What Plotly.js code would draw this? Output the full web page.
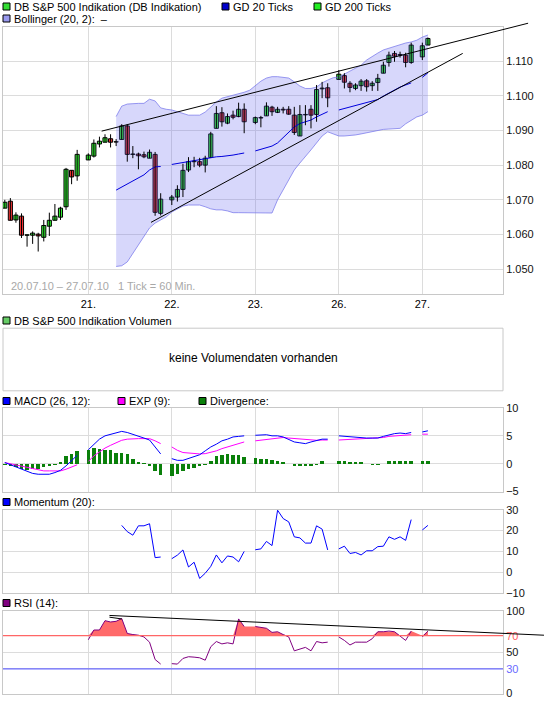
<!DOCTYPE html>
<html><head><meta charset="utf-8">
<script src="https://cdn.plot.ly/plotly-3.0.1.min.js"></script>
<style>html,body{margin:0;padding:0;background:#fff}</style>
</head><body><div id="chart" style="width:545px;height:711px"></div>
<script>
// ---------- data ----------
const dayTickIdx = [15, 30, 45, 60, 75];
const dayTickText = ['21.', '22.', '23.', '26.', '27.'];
const priceTicks = [1.05, 1.06, 1.07, 1.08, 1.09, 1.10, 1.11];

const candleIdx = [0,1,2,3,4,5,6,7,8,9,10,11,12,13,
  15,16,17,18,19,20,21,22,23,24,25,26,27,28,
  30,31,32,33,34,35,36,37,38,39,40,41,42,43,
  45,46,47,48,49,50,51,52,53,54,55,56,57,58,
  60,61,62,63,64,65,66,67,68,69,70,71,72,73,
  75,76];
const candleOpen = [1.0676,1.0696,1.0642,1.0653,1.0598,1.0598,1.0601,1.0592,1.0624,1.0641,1.0650,1.0680,1.0785,1.0769,
  1.0815,1.0826,1.0861,1.0866,1.0876,1.0867,1.0874,1.0913,1.0831,1.0832,1.0830,1.0820,1.0831,1.0661,
  1.0700,1.0708,1.0730,1.0786,1.0810,1.0810,1.0800,1.0822,1.0906,1.0951,1.0921,1.0944,1.0940,1.0961,
  1.0923,1.0937,1.0942,1.0967,1.0952,1.0961,1.0961,1.0944,1.0884,1.0945,1.0961,1.0946,1.1020,1.1023,
  1.1047,1.1058,1.1036,1.1021,1.1029,1.1043,1.1029,1.1038,1.1065,1.1096,1.1122,1.1119,1.1117,1.1096,
  1.1112,1.1146];
const candleHigh = [1.0700,1.0705,1.0664,1.0661,1.0600,1.0609,1.0605,1.0642,1.0663,1.0688,1.0680,1.0792,1.0785,1.0844,
  1.0834,1.0874,1.0882,1.0889,1.0889,1.0875,1.0918,1.0918,1.0855,1.0836,1.0839,1.0845,1.0838,1.0719,
  1.0714,1.0742,1.0804,1.0823,1.0824,1.0821,1.0827,1.0896,1.0970,1.0967,1.0949,1.0957,1.0980,1.0978,
  1.0940,1.0942,1.0981,1.0971,1.0968,1.0968,1.0970,1.0968,1.0973,1.0973,1.0973,1.1031,1.1040,1.1036,
  1.1074,1.1065,1.1042,1.1036,1.1048,1.1048,1.1042,1.1063,1.1098,1.1127,1.1129,1.1127,1.1124,1.1153,
  1.1153,1.1168];
const candleLow = [1.0676,1.0641,1.0634,1.0590,1.0565,1.0573,1.0551,1.0580,1.0596,1.0641,1.0642,1.0671,1.0745,1.0755,
  1.0815,1.0822,1.0851,1.0866,1.0851,1.0855,1.0874,1.0810,1.0820,1.0788,1.0820,1.0820,1.0654,1.0655,
  1.0685,1.0695,1.0708,1.0780,1.0794,1.0794,1.0779,1.0822,1.0906,1.0911,1.0918,1.0932,1.0938,1.0892,
  1.0918,1.0909,1.0942,1.0942,1.0950,1.0949,1.0945,1.0887,1.0884,1.0915,1.0906,1.0925,1.0993,1.0967,
  1.1047,1.1021,1.1010,1.1016,1.1014,1.1012,1.1014,1.1014,1.1065,1.1084,1.1098,1.1110,1.1082,1.1092,
  1.1103,1.1146];
const candleClose = [1.0693,1.0641,1.0656,1.0598,1.0599,1.0604,1.0596,1.0626,1.0641,1.0653,1.0676,1.0788,1.0766,1.0831,
  1.0829,1.0863,1.0869,1.0879,1.0866,1.0867,1.0913,1.0831,1.0832,1.0827,1.0824,1.0837,1.0664,1.0702,
  1.0708,1.0730,1.0785,1.0810,1.0811,1.0800,1.0820,1.0890,1.0949,1.0925,1.0940,1.0938,1.0961,1.0925,
  1.0937,1.0936,1.0970,1.0954,1.0961,1.0959,1.0947,1.0894,1.0946,1.0946,1.0944,1.1018,1.1022,1.0994,
  1.1062,1.1039,1.1024,1.1031,1.1042,1.1026,1.1036,1.1050,1.1088,1.1117,1.1114,1.1117,1.1096,1.1146,
  1.1144,1.1165];

// Bollinger band (index 20..76)
const bbIdx = [20,21,22,23,24,25,26,27,28,29,30,31,32,33,34,35,36,37,38,39,40,41,42,43,44,45,46,47,48,49,
  50,51,52,53,54,55,56,57,58,59,60,61,62,63,64,65,66,67,68,69,70,71,72,73,74,75,76];
const bbUpper = [1.0940,1.0970,1.0976,1.0978,1.0978,1.0978,1.0990,1.0985,1.0965,1.0961,
  1.0959,1.0954,1.0950,1.0944,1.0944,1.0944,1.0953,1.0968,1.0982,1.0993,
  1.0997,1.1002,1.1005,1.1010,1.1016,1.1028,1.1042,1.1051,1.1055,1.1055,
  1.1054,1.1051,1.1040,1.1028,1.1021,1.1021,1.1025,1.1037,1.1045,1.1052,
  1.1054,1.1063,1.1071,1.1080,1.1088,1.1103,1.1114,1.1123,1.1132,1.1137,
  1.1143,1.1146,1.1152,1.1155,1.1160,1.1169,1.1175];
const bbLower = [1.0508,1.0510,1.0521,1.0546,1.0570,1.0596,1.0619,1.0633,1.0642,1.0651,
  1.0665,1.0674,1.0682,1.0685,1.0685,1.0685,1.0680,1.0674,1.0671,1.0671,1.0668,
  1.0663,1.0663,1.0663,1.0663,1.0662,1.0662,1.0661,1.0662,
  1.0700,1.0728,1.0757,1.0786,1.0806,1.0824,1.0844,1.0864,1.0884,1.0896,
  1.0890,1.0884,1.0884,1.0885,1.0887,1.0890,1.0893,1.0896,1.0901,1.0903,1.0904,1.0905,1.0906,1.0919,1.0930,1.0939,1.0944,1.0954];
// GD 20 (index 0..76, gaps between days)
const allIdx = Array.from({length: 77}, (_, k) => k);
const gd20 = [null,null,null,null,null,null,null,null,null,null,null,null,null,null,null,
  null,null,null,null,null,1.0728,1.0737,1.0746,1.0754,1.0763,1.0772,1.0786,1.0795,1.0796,null,
  1.0802,1.0805,1.0807,1.0810,1.0812,1.0815,1.0818,1.0821,1.0824,1.0825,1.0826,1.0829,1.0832,1.0835,null,
  1.0841,1.0845,1.0851,1.0855,1.0864,1.0880,1.0896,1.0910,1.0920,1.0926,1.0930,1.0939,1.0947,1.0954,null,
  1.0959,1.0963,1.0968,1.0972,1.0976,1.0980,1.0985,1.0989,1.0999,1.1008,1.1016,1.1025,1.1031,1.1037,null,
  1.1053,1.1066];

const macd = [0.2,-0.2,-0.6,-1.0,-1.4,-1.75,-1.9,-1.95,-1.9,-1.6,-1.2,-0.4,0.5,1.5,null,
  2.5,3.5,4.4,5.0,5.3,5.6,5.8,5.6,5.3,5.0,4.6,4.25,3.1,1.75,null,
  0.9,0.6,0.6,0.9,1.2,1.6,2.3,3.0,3.5,4.1,4.4,4.8,4.9,5.0,null,
  5.1,5.2,5.2,5.0,5.0,4.8,4.3,3.9,3.75,3.6,3.9,4.2,4.4,4.4,null,
  5.0,4.9,4.8,4.7,4.6,4.6,4.6,4.6,4.9,5.2,5.4,5.5,5.4,5.6,null,
  5.7,5.9];
const macdExp = [0.2,0.0,-0.3,-0.5,-0.7,-0.85,-1.1,-1.3,-1.3,-1.3,-1.3,-1.0,-0.6,-0.2,null,
  0.4,1.4,2.1,2.8,3.3,3.8,4.2,4.4,4.5,4.5,4.5,4.5,4.1,3.6,null,
  3.0,2.4,2.0,1.9,1.8,1.75,1.8,2.0,2.3,2.7,3.0,3.3,3.6,3.9,null,
  4.1,4.2,4.3,4.4,4.5,4.7,4.6,4.5,4.4,4.3,4.25,4.2,4.25,4.25,null,
  4.25,4.3,4.4,4.5,4.5,4.5,4.55,4.6,4.7,4.9,5.0,5.1,5.1,5.2,null,
  5.3,5.3];
const divergence = [-0.2,-0.4,-0.6,-0.9,-1.1,-1.0,-0.9,-0.6,-0.4,-0.2,0.3,1.3,1.7,2.2,null,
  2.4,2.75,2.6,2.5,2.4,2.0,2.0,1.7,0.9,0.3,0.2,-0.4,-1.4,-2.1,null,
  -2.2,-1.9,-1.4,-1.0,-0.7,-0.4,-0.2,0.5,1.3,1.5,1.7,1.6,1.6,1.2,null,
  1.1,0.9,0.9,0.6,0.45,0.3,0,-0.5,-0.5,-0.5,-0.4,-0.2,0.4,0,null,
  0.5,0.45,0.3,0.3,0.25,0,-0.2,-0.2,0,0.5,0.5,0.45,0.4,0.5,null,
  0.5,0.5];
const momentum = [null,null,null,null,null,null,null,null,null,null,null,null,null,null,null,
  null,null,null,null,null,null,22.5,19.5,17.8,22.3,22.3,23.3,7,7.3,null,
  6.5,8.2,10.7,2.5,4.8,-3,-0.5,2.8,8.3,4.5,7.8,7.3,5,10,null,
  10.8,11.2,14.8,12.8,29.8,25.8,24.2,17,16.5,14,14,22.3,20.7,10.7,null,
  11.2,12.5,9,9.5,8.3,10.3,10.3,12.3,12.5,17,15.8,17,15.3,25.3,null,
  20.3,22.5];
const rsi = [null,null,null,null,null,null,null,null,null,null,null,null,null,null,null,
  65.1,76.9,76.9,88.2,86.6,87.4,90.8,72.7,71.4,70.6,68.5,62.2,41.2,35.7,null,
  36.2,35.7,42.5,44.6,44.1,43.3,40.4,56.7,63,60.1,61.4,60.1,90.3,81.1,null,
  81.1,80.3,79,74,74.8,71.4,68.5,51.7,53.8,55.9,51.7,63,61.4,62.2,null,
  68.5,64.3,58.8,62.2,62.2,62.2,66.4,74.8,74.8,75.6,74.8,69.8,64.3,75.6,null,
  68.5,75.6];

// trend lines drawn on the chart: [index, value] end points
const trendUpper = [[17.4, 1.0898], [94.0, 1.1209]];
const trendLower = [[26.26, 1.0635], [82.25, 1.1122]];
const trendRsi = [[18.8, 94.5], [96.85, 70.6]];
const trendRsiShort = [[18.8, 92.4], [21.0, 90.3]];

// ---------- layout geometry ----------
const W = 545, H = 711;
const FONT = 'Liberation Sans, Arial, sans-serif';
const XR = [-0.323, 89.49];
const XD = [3 / W, 503 / W];
const pyv = p => 1 - p / H;
const D_MAIN = [pyv(293.5), pyv(26.7)], R_MAIN = [1.0430, 1.1199];
const D_MACD = [pyv(491.5), pyv(408)], R_MACD = [-5, 10];
const D_MOM = [pyv(593), pyv(509.8)], R_MOM = [-10, 30];
const D_RSI = [pyv(693.6), pyv(610.9)], R_RSI = [0, 100];

const toPX = i => XD[0] + (i - XR[0]) / (XR[1] - XR[0]) * (XD[1] - XD[0]);
const toPY = (v, d, r) => d[0] + (v - r[0]) / (r[1] - r[0]) * (d[1] - d[0]);

const GRID = '#dcdcdc', FRAME = '#c8c8c8';
function xAx(dom, anchor, labels) {
  return {domain: dom, range: XR, anchor: anchor, tickvals: dayTickIdx, ticktext: dayTickText,
    showticklabels: labels, ticks: '', showgrid: true, gridcolor: GRID, zeroline: false,
    showline: true, linecolor: FRAME, mirror: true, fixedrange: true,
    tickfont: {family: FONT, size: 11, color: '#000'}};
}
function yAx(dom, rng, anchor, tv, tt) {
  return {domain: dom, range: rng, anchor: anchor, side: 'right', tickvals: tv, ticktext: tt,
    ticks: '', showgrid: true, gridcolor: GRID, zeroline: false, showline: true, linecolor: FRAME,
    mirror: true, fixedrange: true, tickfont: {family: FONT, size: 11, color: '#111'}};
}

// ---------- traces ----------
const traces = [];
traces.push({type: 'scatter', x: bbIdx, y: bbLower, mode: 'lines', xaxis: 'x', yaxis: 'y',
  line: {color: 'rgba(120,120,235,0.75)', width: 1}, hoverinfo: 'skip'});
traces.push({type: 'scatter', x: bbIdx, y: bbUpper, mode: 'lines', xaxis: 'x', yaxis: 'y', fill: 'tonexty',
  fillcolor: 'rgba(100,100,240,0.26)', line: {color: 'rgba(120,120,235,0.75)', width: 1}, hoverinfo: 'skip'});
traces.push({type: 'scatter', x: allIdx, y: gd20, mode: 'lines', xaxis: 'x', yaxis: 'y',
  line: {color: '#0000dd', width: 1}, hoverinfo: 'skip'});

// candles: wicks (scatter) + bodies (bars)
const wickX = [], wickY = [];
candleIdx.forEach((k, j) => { wickX.push(k, k, null); wickY.push(candleLow[j], candleHigh[j], null); });
traces.push({type: 'scatter', x: wickX, y: wickY, mode: 'lines', xaxis: 'x', yaxis: 'y',
  line: {color: '#000', width: 1}, hoverinfo: 'skip'});
const MINB = 0.00012;
function bodies(up) {
  const bx = [], bb = [], bh = [];
  candleIdx.forEach((k, j) => {
    const o = candleOpen[j], c = candleClose[j];
    if ((c >= o) === up) {
      const h = Math.max(Math.abs(c - o), MINB);
      bx.push(k); bb.push((o + c) / 2 - h / 2); bh.push(h);
    }
  });
  return {type: 'bar', x: bx, y: bh, base: bb, xaxis: 'x', yaxis: 'y', width: 0.74,
    marker: {color: up ? '#33ee33' : '#ee3333', line: {color: '#000', width: 1}}, hoverinfo: 'skip'};
}
traces.push(bodies(true));
traces.push(bodies(false));

traces.push({type: 'bar', x: allIdx, y: divergence, xaxis: 'x2', yaxis: 'y2', width: 0.62,
  marker: {color: '#0a800a', line: {width: 0}}, hoverinfo: 'skip'});
traces.push({type: 'scatter', x: allIdx, y: macdExp, mode: 'lines', xaxis: 'x2', yaxis: 'y2',
  line: {color: '#ff00ff', width: 1}, hoverinfo: 'skip'});
traces.push({type: 'scatter', x: allIdx, y: macd, mode: 'lines', xaxis: 'x2', yaxis: 'y2',
  line: {color: '#0000ff', width: 1}, hoverinfo: 'skip'});

traces.push({type: 'scatter', x: allIdx, y: momentum, mode: 'lines', xaxis: 'x3', yaxis: 'y3',
  line: {color: '#0000ff', width: 1}, hoverinfo: 'skip'});

// RSI fill above 70
const rsiFX = [], rsiFBase = [], rsiFTop = [];
allIdx.forEach((k, j) => { if (rsi[j] !== null) { rsiFX.push(k); rsiFBase.push(70); rsiFTop.push(Math.max(rsi[j], 70)); } });
traces.push({type: 'scatter', x: rsiFX, y: rsiFBase, mode: 'lines', xaxis: 'x4', yaxis: 'y4',
  line: {width: 0, color: 'rgba(0,0,0,0)'}, hoverinfo: 'skip'});
traces.push({type: 'scatter', x: rsiFX, y: rsiFTop, mode: 'lines', xaxis: 'x4', yaxis: 'y4', fill: 'tonexty',
  fillcolor: '#ff6a6a', line: {width: 0, color: 'rgba(0,0,0,0)'}, hoverinfo: 'skip'});
traces.push({type: 'scatter', x: allIdx, y: rsi, mode: 'lines', xaxis: 'x4', yaxis: 'y4',
  line: {color: '#800080', width: 1}, hoverinfo: 'skip'});

// ---------- shapes & annotations ----------
const shapes = [];
const annotations = [];
function seg(p, d, r) {
  shapes.push({type: 'line', xref: 'paper', yref: 'paper', x0: toPX(p[0][0]), y0: toPY(p[0][1], d, r),
    x1: toPX(p[1][0]), y1: toPY(p[1][1], d, r), line: {color: '#000', width: 1}});
}
seg(trendUpper, D_MAIN, R_MAIN);
seg(trendLower, D_MAIN, R_MAIN);
seg(trendRsi, D_RSI, R_RSI);
seg(trendRsiShort, D_RSI, R_RSI);
// RSI reference lines
shapes.push({type: 'line', xref: 'x4', yref: 'y4', x0: XR[0], x1: XR[1], y0: 70, y1: 70, line: {color: '#ff6666', width: 1.2}, layer: 'above'});
shapes.push({type: 'line', xref: 'x4', yref: 'y4', x0: XR[0], x1: XR[1], y0: 30, y1: 30, line: {color: '#6a6aff', width: 1.2}, layer: 'above'});
// volume panel frame
shapes.push({type: 'rect', xref: 'paper', yref: 'paper', x0: XD[0], x1: XD[1], y0: pyv(390.8), y1: pyv(328.2),
  line: {color: FRAME, width: 1}, fillcolor: 'rgba(0,0,0,0)'});

function legendItem(px, py, color, text) {
  shapes.push({type: 'rect', xref: 'paper', yref: 'paper', x0: px / W, x1: (px + 7) / W,
    y0: pyv(py + 3.5), y1: pyv(py - 3.5), fillcolor: color, line: {color: '#000', width: 1}});
  annotations.push({xref: 'paper', yref: 'paper', x: (px + 10) / W, y: pyv(py), text: text, showarrow: false,
    xanchor: 'left', yanchor: 'middle', borderpad: 0, font: {family: FONT, size: 11, color: '#000'}});
}
legendItem(3, 6.5, '#33dd33', 'DB S&amp;P 500 Indikation (DB Indikation)');
legendItem(222, 6.5, '#0000cc', 'GD 20 Ticks');
legendItem(314, 6.5, '#22ee22', 'GD 200 Ticks');
legendItem(3, 18.5, '#9999ee', 'Bollinger (20, 2):  \u2013');
legendItem(3, 320.5, '#66cc66', 'DB S&amp;P 500 Indikation Volumen');
legendItem(3, 401, '#0000ff', 'MACD (26, 12):');
legendItem(118, 401, '#ff00ff', 'EXP (9):');
legendItem(199, 401, '#0a800a', 'Divergence:');
legendItem(3, 502, '#0000ff', 'Momentum (20):');
legendItem(3, 603, '#800080', 'RSI (14):');

annotations.push({xref: 'paper', yref: 'paper', x: 10 / W, y: pyv(286), text: '20.07.10 \u2013 27.07.10\u00a0\u00a0\u00a01 Tick = 60 Min.',
  showarrow: false, xanchor: 'left', yanchor: 'middle', borderpad: 0, font: {family: FONT, size: 11, color: '#a8a8a8'}});
annotations.push({xref: 'paper', yref: 'paper', x: 253 / W, y: pyv(358.5), text: 'keine Volumendaten vorhanden',
  showarrow: false, xanchor: 'center', yanchor: 'middle', borderpad: 0, font: {family: FONT, size: 12, color: '#000'}});

const layout = {
  width: W, height: H, margin: {l: 0, r: 0, t: 0, b: 0}, showlegend: false,
  paper_bgcolor: '#fff', plot_bgcolor: '#fff', font: {family: FONT, size: 11, color: '#000'},
  barmode: 'overlay', bargap: 0,
  xaxis: xAx(XD, 'y', true),
  yaxis: yAx(D_MAIN, R_MAIN, 'x', priceTicks, priceTicks.map(v => v.toFixed(3))),
  xaxis2: xAx(XD, 'y2', false),
  yaxis2: yAx(D_MACD, R_MACD, 'x2', [-5, 0, 5, 10], ['\u22125', '0', '5', '10']),
  xaxis3: xAx(XD, 'y3', false),
  yaxis3: yAx(D_MOM, R_MOM, 'x3', [-10, 0, 10, 20, 30], ['\u221210', '0', '10', '20', '30']),
  xaxis4: xAx(XD, 'y4', false),
  yaxis4: yAx(D_RSI, R_RSI, 'x4', [0, 30, 50, 70, 100],
    ['0', '<span style="color:#6a6aff">30</span>', '50', '<span style="color:#ff6060">70</span>', '100']),
  shapes: shapes, annotations: annotations
};
Plotly.newPlot('chart', traces, layout, {staticPlot: true, displayModeBar: false});
</script>
</body></html>
